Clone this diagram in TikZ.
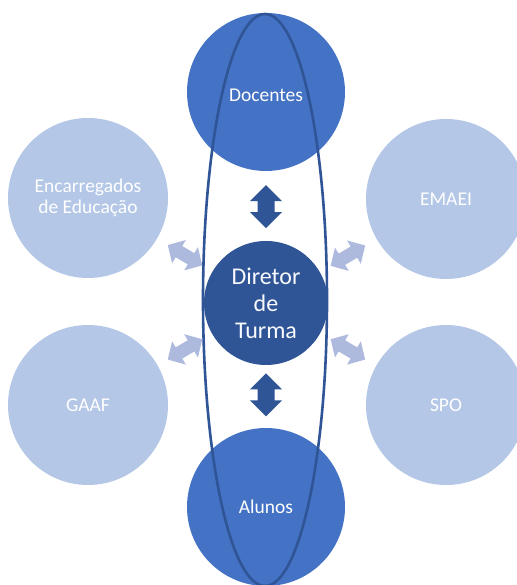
\documentclass[tikz,border=0pt]{standalone}
\usepackage{fontspec}
\setmainfont{Carlito}
\usetikzlibrary{calc,shapes.geometric}
\definecolor{lightc}{RGB}{180,199,231}
\definecolor{midc}{RGB}{68,114,196}
\definecolor{darkc}{RGB}{47,85,151}
\definecolor{arrowc}{RGB}{174,185,222}
\newcommand{\dblblock}[7]{%
  % #1 center, #2 angle, #3 length, #4 head width, #5 shaft width, #6 head length, #7 colour
  \begin{scope}[shift={#1}, rotate=#2]
    \fill[#7] (-#3/2,0) -- (-#3/2+#6,#4/2) -- (-#3/2+#6,#5/2) -- (#3/2-#6,#5/2)
      -- (#3/2-#6,#4/2) -- (#3/2,0) -- (#3/2-#6,-#4/2) -- (#3/2-#6,-#5/2)
      -- (-#3/2+#6,-#5/2) -- (-#3/2+#6,-#4/2) -- cycle;
  \end{scope}}
\begin{document}
\begin{tikzpicture}[x=1pt,y=1pt,
  outer/.style={circle, fill=lightc, minimum size=160pt, inner sep=0pt, text=white, font=\fontsize{19.5}{20.5}\selectfont, align=center},
  inner/.style={circle, fill=midc, minimum size=158pt, inner sep=0pt, text=white, font=\fontsize{19.5}{21}\selectfont, align=center},
  core/.style={circle, fill=darkc, minimum size=124pt, inner sep=0pt, text=white!92!lightc, font=\fontsize{24}{27}\selectfont, align=center}]
\useasboundingbox (0,0) rectangle (516,585);
\fill[white] (0,0) rectangle (516,585);
% outer circles
\node[outer] (enc) at (88,387) {Encarregados\\de Educação};
\node[outer] (ema) at (446,386) {EMAEI};
\node[outer] (gaa) at (88,180) {GAAF};
\node[outer] (spo) at (446,180) {SPO};
% top and bottom
\node[inner] (doc) at (266,493) {};
\node[text=white, font=\fontsize{19.5}{21}\selectfont] (doct) at (266,490) {Docentes};
\node[inner] (alu) at (266,78) {Alunos};
% ellipse
\node[draw=darkc, line width=2.6pt, ellipse, minimum width=124pt, minimum height=572pt, inner sep=0pt] (ell) at (265,285) {};
% director
\node[core] (dir) at (266,282) {Diretor\\de\\Turma};
% block arrows
\dblblock{($(doc)!0.543!(dir)$)}{90}{43}{32}{17}{16}{darkc}
\dblblock{($(dir)!0.45!(alu)$)}{90}{43}{32}{17}{16}{darkc}
\dblblock{($(enc)!0.545!(dir)$)}{-30.5}{40}{27}{13}{13}{arrowc}
\dblblock{($(ema)!0.545!(dir)$)}{30.5}{40}{27}{13}{13}{arrowc}
\dblblock{($(gaa)!0.545!(dir)$)}{30.5}{40}{27}{13}{13}{arrowc}
\dblblock{($(spo)!0.545!(dir)$)}{-30.5}{40}{27}{13}{13}{arrowc}
\end{tikzpicture}
\end{document}
